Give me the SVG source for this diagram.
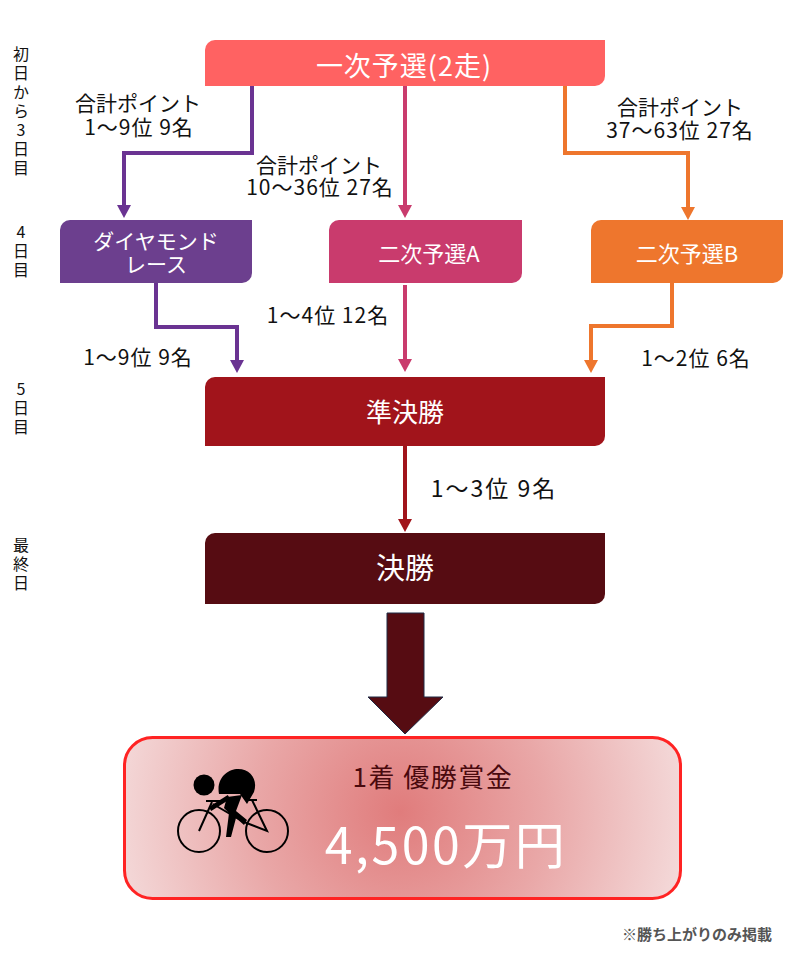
<svg xmlns="http://www.w3.org/2000/svg" width="795" height="959" viewBox="0 0 795 959">
<style>
text,tspan{font-family:"Noto Sans CJK JP","Noto Sans",sans-serif;dominant-baseline:central;text-anchor:middle}
.lbl{font-size:21px;fill:#111}
.num{letter-spacing:1px}
.day{font-size:16px;fill:#111;writing-mode:vertical-rl;text-orientation:upright;letter-spacing:3px;text-anchor:start}
.bx{fill:#fff}
.cn{fill:none;stroke-width:4;stroke-linejoin:miter;stroke-linecap:butt}
.bk{fill:none;stroke:#000;stroke-width:2}
</style>
<defs>
<marker id="mP" markerUnits="userSpaceOnUse" markerWidth="14" markerHeight="14" refX="0" refY="7" orient="auto"><path d="M0,0 L13,7 L0,14 Z" fill="#6A3392"/></marker>
<marker id="mK" markerUnits="userSpaceOnUse" markerWidth="14" markerHeight="14" refX="0" refY="7" orient="auto"><path d="M0,0 L13,7 L0,14 Z" fill="#C93B6D"/></marker>
<marker id="mO" markerUnits="userSpaceOnUse" markerWidth="14" markerHeight="14" refX="0" refY="7" orient="auto"><path d="M0,0 L13,7 L0,14 Z" fill="#EE762D"/></marker>
<marker id="mR" markerUnits="userSpaceOnUse" markerWidth="14" markerHeight="14" refX="0" refY="7" orient="auto"><path d="M0,0 L13,7 L0,14 Z" fill="#A1141B"/></marker>
<radialGradient id="prizeGrad" gradientUnits="userSpaceOnUse" cx="400" cy="812" r="290">
<stop offset="0" stop-color="#E07C7C"/>
<stop offset="0.5" stop-color="#E9A7A7"/>
<stop offset="1" stop-color="#F4DADA"/>
</radialGradient>
</defs>

<g id="day-labels">
<text class="day" x="21" y="46">初日から3日目</text>
<text class="day" x="21" y="224">4日目</text>
<text class="day" x="21" y="381">5日目</text>
<text class="day" x="21" y="537">最終日</text>
</g>

<g id="connectors">
<path class="cn" stroke="#6A3392" d="M252,86 V153 H124 V205" marker-end="url(#mP)"/>
<path class="cn" stroke="#C93B6D" d="M405,86 V205" marker-end="url(#mK)"/>
<path class="cn" stroke="#EE762D" d="M565,86 V153 H688 V207" marker-end="url(#mO)"/>
<path class="cn" stroke="#6A3392" d="M156,283 V327 H237 V360" marker-end="url(#mP)"/>
<path class="cn" stroke="#C93B6D" d="M405,285 V359" marker-end="url(#mK)"/>
<path class="cn" stroke="#EE762D" d="M672,283 V326 H591 V360" marker-end="url(#mO)"/>
<path class="cn" stroke="#A1141B" d="M405,446 V519" marker-end="url(#mR)"/>
<polygon points="387,613 424,613 424,697 443,697 405,734 368,697 387,697" fill="#560C12" stroke="#1F2A44" stroke-width="1"/>
</g>

<g id="connector-labels">
<text class="lbl"><tspan x="138" y="102">合計ポイント</tspan><tspan class="num" x="139" y="126">1〜9位 9名</tspan></text>
<text class="lbl"><tspan x="319" y="164">合計ポイント</tspan><tspan class="num" x="320" y="186">10〜36位 27名</tspan></text>
<text class="lbl"><tspan x="680" y="106">合計ポイント</tspan><tspan class="num" x="680" y="129">37〜63位 27名</tspan></text>
<text class="lbl num" x="138" y="356">1〜9位 9名</text>
<text class="lbl num" x="328" y="314">1〜4位 12名</text>
<text class="lbl num" x="696" y="357">1〜2位 6名</text>
<text class="lbl" x="494" y="487" style="font-size:23px;letter-spacing:2px">1〜3位 9名</text>
</g>

<g id="node-first">
<path d="M215,40 H605 V76 A10,10 0 0 1 595,86 H205 V50 A10,10 0 0 1 215,40 Z" fill="#FF6262"/>
<text class="bx" x="404" y="64" style="font-size:27px;letter-spacing:1px">一次予選(2走)</text>
</g>

<g id="node-diamond">
<path d="M70,220 H252 V273 A10,10 0 0 1 242,283 H60 V230 A10,10 0 0 1 70,220 Z" fill="#6C3F8E"/>
<text class="bx" style="font-size:21px"><tspan x="156" y="240">ダイヤモンド</tspan><tspan x="156" y="263">レース</tspan></text>
</g>

<g id="node-second-a">
<path d="M339,220 H522 V273 A10,10 0 0 1 512,283 H329 V230 A10,10 0 0 1 339,220 Z" fill="#C93B6D"/>
<text class="bx" x="429" y="252" style="font-size:22px">二次予選A</text>
</g>

<g id="node-second-b">
<path d="M601,220 H783 V273 A10,10 0 0 1 773,283 H591 V230 A10,10 0 0 1 601,220 Z" fill="#EE762D"/>
<text class="bx" x="687" y="252" style="font-size:22px">二次予選B</text>
</g>

<g id="node-semifinal">
<path d="M215,377 H605 V436 A10,10 0 0 1 595,446 H205 V387 A10,10 0 0 1 215,377 Z" fill="#A1141B"/>
<text class="bx" x="405" y="410" style="font-size:26px">準決勝</text>
</g>

<g id="node-final">
<path d="M215,533 H605 V594 A10,10 0 0 1 595,604 H205 V543 A10,10 0 0 1 215,533 Z" fill="#560C12"/>
<text class="bx" x="405" y="566" style="font-size:29px">決勝</text>
</g>

<g id="node-prize">
<rect x="124.5" y="737.5" width="556" height="161" rx="28" fill="url(#prizeGrad)" stroke="#FF2323" stroke-width="3"/>
<text x="433" y="775" style="font-size:26px;letter-spacing:1.5px;fill:#4A0A0E">1着 優勝賞金</text>
<text x="446" y="842" style="font-size:50px;letter-spacing:2.5px;fill:#fff">4,500万円</text>
<g id="cyclist">
<circle class="bk" cx="199" cy="831" r="21"/>
<circle class="bk" cx="267" cy="831" r="21"/>
<path class="bk" d="M199,831 L212,802 M206,801 H221 M213,804 L244,822 L267,831 L252,800 M248,800 H257"/>
<circle cx="204" cy="785" r="10.5" fill="#000"/>
<path d="M219,794 C216,778 228,769 238,769 C251,769 258,780 254,792 L247,804 L240,794 L224,794 Z" fill="#000"/>
<path d="M210,809 L229,797" stroke="#000" stroke-width="4.5" fill="none"/>
<polygon points="227,797 242,795 236,811 247,820 244,825 236,818 231,837 226,837 229,813 224,808" fill="#000"/>
</g>
</g>

<text x="772" y="933" style="font-size:15px;font-weight:bold;fill:#555;text-anchor:end">※勝ち上がりのみ掲載</text>
</svg>
